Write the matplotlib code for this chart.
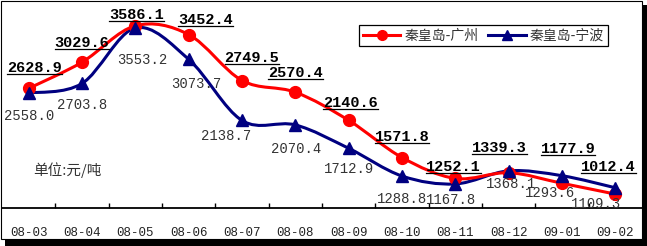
import matplotlib
matplotlib.use("Agg")
import matplotlib.pyplot as plt
from matplotlib.path import Path
from matplotlib.patches import PathPatch, Rectangle
from matplotlib.lines import Line2D
from matplotlib.transforms import IdentityTransform
import numpy as np

categories = ["08-03", "08-04", "08-05", "08-06", "08-07", "08-08",
              "08-09", "08-10", "08-11", "08-12", "09-01", "09-02"]
guangzhou = [2628.9, 3029.6, 3586.1, 3452.4, 2749.5, 2570.4,
             2140.6, 1571.8, 1252.1, 1339.3, 1177.9, 1012.4]
ningbo = [2558.0, 2703.8, 3553.2, 3073.7, 2138.7, 2070.4,
          1712.9, 1288.8, 1167.8, 1368.1, 1293.6, 1109.3]
series_names = ["秦皇岛-广州", "秦皇岛-宁波"]
unit_text = "单位:元/吨"

# label offsets in pixels (layout only)
gz_off = [(6, 20), (0, 19), (1, 11), (17, 15), (10, 23), (0, 19),
          (2, 17), (0, 21), (-2, 11), (-9, 25), (6, 34), (-7, 27)]
nb_off = [(0, -23), (0, -22), (7, -32), (8, -25), (-16, -16), (1, -24),
          (0, -21), (0, -23), (-4, -16), (2, -13), (-12, -17), (-19, -16)]

W, H = 647, 246
fig = plt.figure(figsize=(W / 100, H / 100), dpi=100)
fig.patch.set_facecolor("white")

def fx(px):
    return px / W

def fy(py):
    return (H - py) / H

# shadow + frame
fig.patches.append(Rectangle((fx(5), fy(246)), fx(647) - fx(5), fy(5) - fy(246),
                             transform=fig.transFigure, facecolor="black",
                             edgecolor="none", zorder=-10))
fig.patches.append(Rectangle((fx(1), fy(239)), fx(642) - fx(1), fy(1) - fy(239),
                             transform=fig.transFigure, facecolor="white",
                             edgecolor="black", linewidth=0.8, zorder=-9))

ax = fig.add_axes([fx(2), fy(208), fx(642) - fx(2), fy(2) - fy(208)])
ax.set_zorder(1)
ax.patch.set_visible(False)
x = np.arange(len(categories))
ax.set_xlim(-0.5, len(categories) - 0.5)
ax.set_ylim(800, 3950)

def smooth_path(xs, ys):
    pts = list(zip(xs, ys))
    verts = [pts[0]]
    codes = [Path.MOVETO]
    n = len(pts)
    for i in range(n - 1):
        p0 = pts[i - 1] if i > 0 else pts[i]
        p1 = pts[i]
        p2 = pts[i + 1]
        p3 = pts[i + 2] if i + 2 < n else pts[i + 1]
        c1 = (p1[0] + (p2[0] - p0[0]) / 6, p1[1] + (p2[1] - p0[1]) / 6)
        c2 = (p2[0] - (p3[0] - p1[0]) / 6, p2[1] - (p3[1] - p1[1]) / 6)
        verts += [c1, c2, p2]
        codes += [Path.CURVE4] * 3
    return Path(verts, codes)

red = "#FF0000"
navy = "#000080"
ax.add_patch(PathPatch(smooth_path(x, ningbo), facecolor="none", edgecolor=navy,
                       linewidth=2.2, zorder=2))
ax.add_patch(PathPatch(smooth_path(x, guangzhou), facecolor="none", edgecolor=red,
                       linewidth=2.2, zorder=3))
ax.plot(x, guangzhou, linestyle="none", marker="o", markersize=8.5, color=red, zorder=4)
ax.plot(x, ningbo, linestyle="none", marker="^", markersize=9, color=navy, zorder=5)

numfont = "Liberation Mono"
red_texts = []
for xi, v, off in zip(x, guangzhou, gz_off):
    t = ax.annotate(f"{v:.1f}", (xi, v), xytext=off, textcoords="offset pixels",
                    ha="center", va="center", fontsize=11, fontweight="bold",
                    family=numfont, color="black", zorder=6)
    red_texts.append(t)
for xi, v, off in zip(x, ningbo, nb_off):
    ax.annotate(f"{v:.1f}", (xi, v), xytext=off, textcoords="offset pixels",
                ha="center", va="center", fontsize=10, family=numfont,
                color="#333333", zorder=6)

# legend
h1 = Line2D([], [], color=red, linewidth=2.2, marker="o", markersize=7)
h2 = Line2D([], [], color=navy, linewidth=2.2, marker="^", markersize=7)
leg = ax.legend([h1, h2], series_names, ncol=2, loc="upper right",
                bbox_to_anchor=(0.957, 0.92), frameon=True, fancybox=False,
                edgecolor="black", framealpha=1, handlelength=2.7,
                handletextpad=0.3, columnspacing=0.7, borderpad=0.25,
                prop={"family": ["Noto Sans CJK SC", "DejaVu Sans"], "size": 10})
leg.get_frame().set_linewidth(0.9)
for t in leg.get_texts():
    t.set_color("#333333")

fig.text(fx(33), fy(170), unit_text, fontsize=10.5,
         family=["Noto Sans CJK SC", "DejaVu Sans"], color="#333333",
         ha="left", va="center")

# axes styling
for s in ["left", "right", "top"]:
    ax.spines[s].set_visible(False)
ax.spines["bottom"].set_linewidth(1.3)
ax.set_yticks([])
ax.set_xticks(x)
ax.set_xticklabels(categories, family=numfont, fontsize=9, color="#222222")
ax.tick_params(axis="x", which="major", length=0, pad=14)
ax.set_xticks(np.arange(0.5, len(categories) - 0.5, 1), minor=True)
ax.tick_params(axis="x", which="minor", direction="in", length=3.8, width=1.0, color="black")

fig.canvas.draw()
renderer = fig.canvas.get_renderer()
for t in red_texts:
    bb = t.get_window_extent(renderer)
    yline = bb.y0 + 1
    fig.add_artist(Line2D([bb.x0, bb.x1], [yline, yline], transform=IdentityTransform(),
                          color="black", linewidth=0.9, zorder=10))

fig.savefig("out.png", dpi=100)
